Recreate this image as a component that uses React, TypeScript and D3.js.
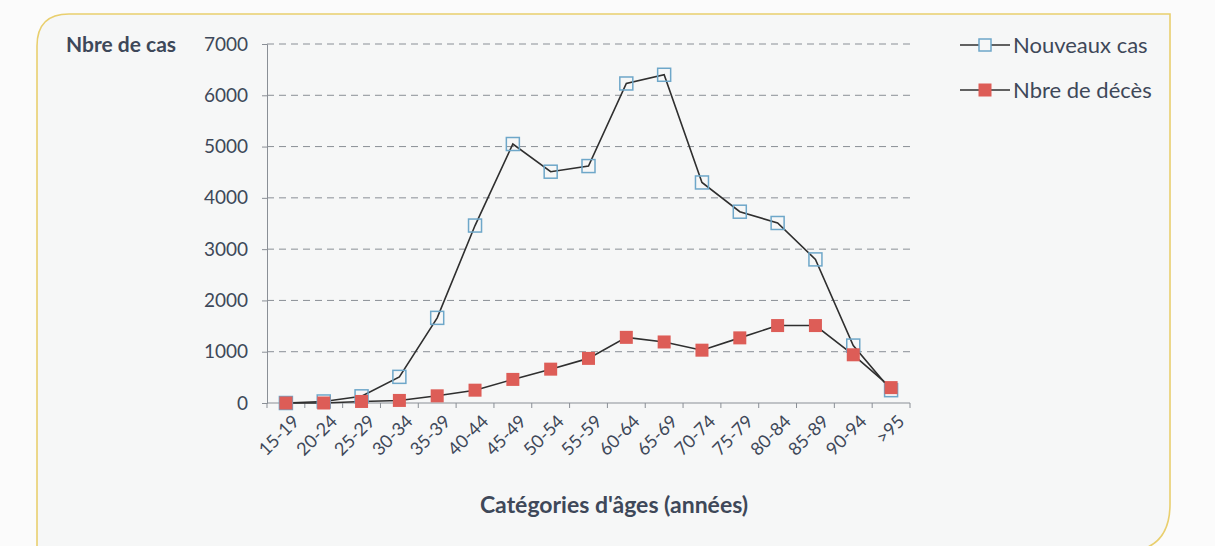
import React, { useEffect, useRef } from "react";
import * as d3 from "d3";

const categories = ["15-19","20-24","25-29","30-34","35-39","40-44","45-49","50-54","55-59","60-64","65-69","70-74","75-79","80-84","85-89","90-94",">95"];
const nouveauxCas = [0, 30, 130, 510, 1660, 3460, 5050, 4510, 4620, 6230, 6400, 4300, 3730, 3510, 2800, 1120, 250];
const deces = [0, 0, 30, 50, 140, 250, 460, 660, 870, 1280, 1190, 1030, 1270, 1510, 1510, 940, 300];
const yTicks = [0, 1000, 2000, 3000, 4000, 5000, 6000, 7000];
const seriesNames = ["Nouveaux cas", "Nbre de décès"];

const W = 1215, H = 546;
const FONT = "Lato, 'Open Sans', sans-serif";
const TXT = "#3e4859";

export default function App() {
  const ref = useRef<SVGSVGElement>(null);
  useEffect(() => {
    const svg = d3.select(ref.current);
    svg.selectAll("*").remove();

    svg.append("rect").attr("width", W).attr("height", H).attr("fill", "#fbfbfb");
    const fx0 = 37, fy0 = 14, fx1 = 1170, fy1 = 552, r1 = 32, r2 = 48;
    const p = d3.path();
    p.moveTo(fx0 + r1, fy0);
    p.lineTo(fx1, fy0);
    p.lineTo(fx1, fy1 - r2);
    p.quadraticCurveTo(fx1, fy1, fx1 - r2, fy1);
    p.lineTo(fx0, fy1);
    p.lineTo(fx0, fy0 + r1);
    p.quadraticCurveTo(fx0, fy0, fx0 + r1, fy0);
    p.closePath();
    svg.append("path").attr("d", p.toString()).attr("fill", "#f6f7f7")
      .attr("stroke", "#e9cf6e").attr("stroke-width", 1.6);

    const left = 267, right = 910, top = 44, bottom = 403;
    const x = d3.scaleBand().domain(categories).range([left, right]).padding(0);
    const y = d3.scaleLinear().domain([0, 7000]).range([bottom, top]);
    const cx = (c: string) => (x(c) as number) + x.bandwidth() / 2;

    svg.append("g").selectAll("line").data(yTicks.filter(t => t > 0)).join("line")
      .attr("x1", left).attr("x2", right)
      .attr("y1", d => y(d)).attr("y2", d => y(d))
      .attr("stroke", "#8a8f96").attr("stroke-width", 1).attr("stroke-dasharray", "7,5");

    const yAxis = d3.axisLeft(y).tickValues(yTicks).tickSize(5).tickPadding(14).tickFormat(d3.format("d"));
    const gy = svg.append("g").attr("transform", `translate(${left},0)`).call(yAxis);
    gy.select(".domain").attr("stroke", "#8a8f96");
    gy.selectAll(".tick line").attr("stroke", "#8a8f96");
    gy.selectAll("text").attr("font-family", FONT).attr("font-size", 19).attr("fill", TXT);

    const gx = svg.append("g").attr("transform", `translate(0,${bottom})`);
    gx.append("line").attr("x1", left).attr("x2", right).attr("stroke", "#8a8f96");
    const bounds = d3.range(categories.length + 1).map(i => left + i * x.bandwidth());
    gx.selectAll("line.tk").data(bounds).join("line").attr("class", "tk")
      .attr("x1", d => d).attr("x2", d => d).attr("y1", 0).attr("y2", 5).attr("stroke", "#8a8f96");
    gx.selectAll("text").data(categories).join("text")
      .attr("transform", d => `translate(${cx(d) + 5},${10}) rotate(-45)`)
      .attr("text-anchor", "end").attr("dy", "0.75em")
      .attr("font-family", FONT).attr("font-size", 18).attr("fill", TXT)
      .text(d => d);

    const line = d3.line<number>().x((_, i) => cx(categories[i])).y(d => y(d));
    svg.append("path").attr("d", line(nouveauxCas)).attr("fill", "none").attr("stroke", "#2f2f2f").attr("stroke-width", 1.6);
    svg.append("path").attr("d", line(deces)).attr("fill", "none").attr("stroke", "#2f2f2f").attr("stroke-width", 1.6);

    const ms = 13;
    svg.append("g").selectAll("rect").data(nouveauxCas).join("rect")
      .attr("x", (_, i) => cx(categories[i]) - ms / 2).attr("y", d => y(d) - ms / 2)
      .attr("width", ms).attr("height", ms).attr("fill", "none")
      .attr("stroke", "#6ea7c9").attr("stroke-width", 1.5);
    svg.append("g").selectAll("rect").data(deces).join("rect")
      .attr("x", (_, i) => cx(categories[i]) - ms / 2).attr("y", d => y(d) - ms / 2)
      .attr("width", ms).attr("height", ms).attr("fill", "#dd5d57");

    svg.append("text").attr("x", 66).attr("y", 52).attr("font-family", FONT).attr("font-weight", 700)
      .attr("font-size", 21).attr("fill", TXT).text("Nbre de cas");
    svg.append("text").attr("x", 614).attr("y", 513).attr("text-anchor", "middle").attr("font-family", FONT)
      .attr("font-weight", 700).attr("font-size", 23).attr("fill", TXT).text("Catégories d'âges (années)");

    const lg = svg.append("g");
    seriesNames.forEach((name, i) => {
      const ly = 45 + i * 45;
      lg.append("line").attr("x1", 960).attr("x2", 1010).attr("y1", ly).attr("y2", ly).attr("stroke", "#2f2f2f").attr("stroke-width", 1.6);
      if (i === 0) {
        lg.append("rect").attr("x", 985 - 6).attr("y", ly - 6).attr("width", 12).attr("height", 12)
          .attr("fill", "#f6f7f7").attr("stroke", "#6ea7c9").attr("stroke-width", 1.5);
      } else {
        lg.append("rect").attr("x", 985 - 6.5).attr("y", ly - 6.5).attr("width", 13).attr("height", 13).attr("fill", "#dd5d57");
      }
      lg.append("text").attr("x", 1013).attr("y", ly).attr("dy", "0.35em").attr("font-family", FONT)
        .attr("font-size", 22).attr("fill", TXT).text(name);
    });
  }, []);
  return (
    <svg ref={ref} width={W} height={H} style={{ position: "absolute", left: 0, top: 0 }} />
  );
}
